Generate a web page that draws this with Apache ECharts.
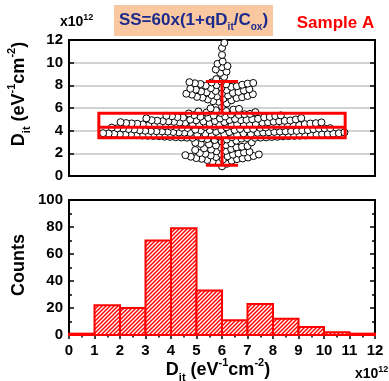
<!DOCTYPE html>
<html>
<head>
<meta charset="utf-8">
<script src="https://cdn.jsdelivr.net/npm/echarts@6/dist/echarts.min.js"></script>
<style>
  html, body { margin: 0; padding: 0; background: #fff; }
  #main { width: 389px; height: 381px; }
</style>
</head>
<body>
<div id="main"></div>
<script>
// Interface trap density values (units of 1e12 eV^-1 cm^-2), one per device
const ditLow = [
  0.85,
  1.08, 1.21, 1.27, 1.35, 1.41, 1.46, 1.49, 1.52, 1.55, 1.58, 1.63, 1.67, 1.7, 1.74, 1.76,
  1.81, 1.84, 1.88, 1.9, 1.93, 1.96, 1.98,
  2.02, 2.07, 2.13, 2.18, 2.22, 2.29, 2.33, 2.38, 2.44, 2.49, 2.53, 2.58, 2.64, 2.69,
  2.73, 2.79, 2.84, 2.88, 2.93, 2.97
];
const ditCore = [
  3.04, 3.11, 3.17, 3.22, 3.26, 3.3, 3.33, 3.35,
  3.36, 3.37, 3.38, 3.4, 3.41, 3.42, 3.43, 3.45, 3.46, 3.47,
  3.48, 3.5, 3.51, 3.52, 3.53, 3.55, 3.56, 3.57, 3.58, 3.6,
  3.61, 3.62, 3.63, 3.65, 3.66, 3.67, 3.68, 3.7, 3.71, 3.72,
  3.73, 3.75, 3.76, 3.77, 3.78, 3.8, 3.81, 3.82, 3.83, 3.85,
  3.86, 3.87, 3.88, 3.9, 3.91, 3.92, 3.93, 3.95, 3.96, 3.97,
  3.98, 3.99, 3.39, 3.44, 3.54, 3.64, 3.69, 3.74, 3.84, 3.89,
  3.94, 3.59,
  4.01, 4.02, 4.03, 4.05, 4.06, 4.08, 4.09, 4.1, 4.12, 4.13,
  4.15, 4.16, 4.18, 4.19, 4.21, 4.22, 4.24, 4.25, 4.27, 4.28,
  4.3, 4.31, 4.33, 4.34, 4.36, 4.37, 4.39, 4.4, 4.42, 4.43,
  4.45, 4.46, 4.48, 4.49, 4.51, 4.52, 4.54, 4.55, 4.57, 4.58,
  4.6, 4.61, 4.63, 4.64, 4.66, 4.67, 4.69, 4.7, 4.72, 4.73,
  4.75, 4.76, 4.78, 4.79, 4.81, 4.82, 4.84, 4.85, 4.87, 4.88,
  4.9, 4.91, 4.93, 4.94, 4.96, 4.97, 4.99, 4.04, 4.14, 4.26,
  4.35, 4.47, 4.56, 4.65, 4.74, 4.83, 4.92, 4.2, 4.5,
  5.01, 5.03, 5.05, 5.07, 5.09, 5.11, 5.13, 5.15, 5.17, 5.19,
  5.21, 5.23, 5.25, 5.27, 5.29, 5.31, 5.33, 5.35, 5.37, 5.39,
  5.42, 5.45, 5.48, 5.52, 5.56, 5.6, 5.64, 5.69, 5.74, 5.8,
  5.86, 5.92, 5.97
];
const ditHigh = [
  6.15, 6.4, 6.55, 6.6, 6.68, 6.75, 6.82, 6.88, 6.92, 6.95, 6.98,
  7.02, 7.06, 7.1, 7.14, 7.18, 7.22, 7.26, 7.3, 7.34, 7.38, 7.42, 7.46,
  7.5, 7.54, 7.58, 7.62, 7.66, 7.7, 7.75, 7.8, 7.86, 7.92, 7.97,
  8.02, 8.05, 8.09, 8.12, 8.15, 8.18, 8.21, 8.25, 8.28, 8.33, 8.55, 8.75,
  9.1, 9.2, 9.4, 9.6, 9.7, 9.9,
  10.1, 10.68,
  11.3, 11.75
];

// Box summary: [lower whisker, lower edge, centre line, upper edge, upper whisker]
const boxStats = [0.94, 3.37, 4.31, 5.54, 8.33];

// Histogram of the same population
const binEdges = [0, 1, 2, 3, 4, 5, 6, 7, 8, 9, 10, 11, 12];
const binCounts = [1, 22, 20, 70, 79, 33, 11, 23, 12, 6, 2, 1];

// Tick labels
const ditTicks = [0, 2, 4, 6, 8, 10, 12];
const countTicks = [0, 20, 40, 60, 80, 100];
const histTicks = [0, 1, 2, 3, 4, 5, 6, 7, 8, 9, 10, 11, 12];

const FONT = '"Liberation Sans", Arial, sans-serif';
const RED = '#ff0000';

// Diagonal hatch used to fill the histogram bars
const tile = document.createElement('canvas');
tile.width = 4; tile.height = 4;
(function () {
  const c = tile.getContext('2d');
  c.fillStyle = '#ffffff';
  c.fillRect(0, 0, 4, 4);
  c.strokeStyle = '#ff0000';
  c.lineWidth = 1.5;
  c.beginPath();
  c.moveTo(0, 4); c.lineTo(4, 0);
  c.moveTo(-1, 1); c.lineTo(1, -1);
  c.moveTo(3, 5); c.lineTo(5, 3);
  c.stroke();
})();
const hatch = { image: tile, repeat: 'repeat' };

const labelStyle = { color: '#000', fontFamily: FONT, fontWeight: 'bold', fontSize: 15 };
const blackLine = { show: true, onZero: false, lineStyle: { color: '#000', width: 2 } };

function frameAxis(extra) {
  return Object.assign({
    type: 'value', axisLine: blackLine, axisTick: { show: false },
    axisLabel: { show: false }, splitLine: { show: false }
  }, extra);
}

const chart = echarts.init(document.getElementById('main'), null, { renderer: 'canvas' });

const option = {
  animation: false,
  backgroundColor: '#fff',
  grid: [
    { left: 69, top: 40, width: 306, height: 136 },
    { left: 69, top: 200, width: 306, height: 135 }
  ],
  xAxis: [
    frameAxis({ gridIndex: 0, position: 'bottom', min: -1, max: 1 }),
    frameAxis({ gridIndex: 0, position: 'top', min: -1, max: 1 }),
    {
      type: 'value', gridIndex: 1, position: 'bottom', min: 0, max: 12, interval: 1,
      axisLine: blackLine,
      axisTick: { show: true, inside: false, length: 4, lineStyle: { color: '#000', width: 1.5 } },
      minorTick: { show: true, splitNumber: 2, length: 2.5, lineStyle: { color: '#000', width: 1.5 } },
      axisLabel: Object.assign({ margin: 8, formatter: v => histTicks.includes(v) ? String(v) : '' }, labelStyle),
      splitLine: { show: false }
    },
    frameAxis({ gridIndex: 1, position: 'top', min: 0, max: 12 })
  ],
  yAxis: [
    {
      type: 'value', gridIndex: 0, position: 'left', min: 0, max: 12, interval: 2,
      axisLine: blackLine,
      axisTick: { show: true, inside: true, length: 5, lineStyle: { color: '#000', width: 1.5 } },
      axisLabel: Object.assign({ margin: 6, formatter: v => ditTicks.includes(v) ? String(v) : '' }, labelStyle),
      splitLine: { show: true, lineStyle: { color: '#c4c4c4', width: 1.5 } }
    },
    {
      type: 'value', gridIndex: 0, position: 'right', min: 0, max: 12, interval: 2,
      axisLine: blackLine,
      axisTick: { show: true, inside: true, length: 5, lineStyle: { color: '#000', width: 1.5 } },
      axisLabel: { show: false }, splitLine: { show: false }
    },
    {
      type: 'value', gridIndex: 1, position: 'left', min: 0, max: 100, interval: 20,
      axisLine: blackLine,
      axisTick: { show: true, inside: true, length: 5, lineStyle: { color: '#000', width: 1.5 } },
      minorTick: { show: true, splitNumber: 2, length: 3, lineStyle: { color: '#000', width: 1.5 } },
      axisLabel: Object.assign({ margin: 6, formatter: v => countTicks.includes(v) ? String(v) : '' }, labelStyle),
      splitLine: { show: false }
    },
    {
      type: 'value', gridIndex: 1, position: 'right', min: 0, max: 100, interval: 20,
      axisLine: blackLine,
      axisTick: { show: true, inside: true, length: 5, lineStyle: { color: '#000', width: 1.5 } },
      minorTick: { show: true, splitNumber: 2, length: 3, lineStyle: { color: '#000', width: 1.5 } },
      axisLabel: { show: false }, splitLine: { show: false }
    }
  ],
  series: [
    {
      id: 'swarm', type: 'scatter', xAxisIndex: 0, yAxisIndex: 0,
      symbol: 'circle', symbolSize: 7, z: 3,
      itemStyle: { color: '#fff', borderColor: '#000', borderWidth: 1, opacity: 1 },
      data: []
    },
    {
      type: 'custom', xAxisIndex: 0, yAxisIndex: 0, z: 5,
      data: [boxStats],
      renderItem(params, api) {
        const [lo, q1, mid, q3, hi] = [0, 1, 2, 3, 4].map(i => api.value(i));
        const half = 0.805, cap = 0.105;
        const tl = api.coord([-half, q3]);
        const br = api.coord([half, q1]);
        const m0 = api.coord([-half, mid]);
        const m1 = api.coord([half, mid]);
        const wTop = api.coord([0, hi]);
        const wBot = api.coord([0, lo]);
        const boxTop = api.coord([0, q3]);
        const boxBot = api.coord([0, q1]);
        const capL = api.coord([-cap, hi])[0];
        const capR = api.coord([cap, hi])[0];
        const stroke = { stroke: RED, lineWidth: 3, fill: null };
        return {
          type: 'group',
          children: [
            { type: 'rect', shape: { x: tl[0], y: tl[1], width: br[0] - tl[0], height: br[1] - tl[1] }, style: stroke },
            { type: 'line', shape: { x1: m0[0], y1: m0[1], x2: m1[0], y2: m1[1] }, style: stroke },
            { type: 'line', shape: { x1: wTop[0], y1: wTop[1], x2: boxTop[0], y2: boxTop[1] }, style: stroke },
            { type: 'line', shape: { x1: wBot[0], y1: wBot[1], x2: boxBot[0], y2: boxBot[1] }, style: stroke },
            { type: 'line', shape: { x1: capL, y1: wTop[1], x2: capR, y2: wTop[1] }, style: stroke },
            { type: 'line', shape: { x1: capL, y1: wBot[1], x2: capR, y2: wBot[1] }, style: stroke }
          ]
        };
      }
    },
    {
      type: 'custom', xAxisIndex: 2, yAxisIndex: 2, z: 3,
      data: binCounts.map((c, i) => [binEdges[i], binEdges[i + 1], c]),
      renderItem(params, api) {
        const p0 = api.coord([api.value(0), api.value(2)]);
        const p1 = api.coord([api.value(1), 0]);
        return {
          type: 'rect',
          shape: { x: p0[0], y: p0[1], width: p1[0] - p0[0], height: p1[1] - p0[1] },
          style: { fill: hatch, stroke: RED, lineWidth: 2 }
        };
      }
    }
  ],
  graphic: [
    { type: 'rect', shape: { x: 114, y: 5, width: 159, height: 31 }, style: { fill: '#f9c8a0' }, z: 1 },
    {
      type: 'text', x: 193.5, y: 20.5, z: 2,
      style: {
        text: '{m|SS=60x(1+qD}{s|it}{m|/C}{s|ox}{m|)}',
        align: 'center', verticalAlign: 'middle',
        rich: {
          m: { fontFamily: FONT, fontWeight: 'bold', fontSize: 17, fill: '#1c2a8c', lineHeight: 24 },
          s: { fontFamily: FONT, fontWeight: 'bold', fontSize: 10, fill: '#1c2a8c', verticalAlign: 'bottom', lineHeight: 10 }
        }
      }
    },
    {
      type: 'text', x: 335.5, y: 23,
      style: { text: 'Sample A', align: 'center', verticalAlign: 'middle', fill: RED,
        font: 'bold 17px ' + FONT }
    },
    {
      type: 'text', x: 60, y: 22,
      style: {
        text: '{m|x10}{p|12}', align: 'left', verticalAlign: 'middle',
        rich: {
          m: { fontFamily: FONT, fontWeight: 'bold', fontSize: 14, fill: '#000', lineHeight: 18 },
          p: { fontFamily: FONT, fontWeight: 'bold', fontSize: 9, fill: '#000', verticalAlign: 'top', lineHeight: 9 }
        }
      }
    },
    {
      type: 'text', x: 355, y: 374,
      style: {
        text: '{m|x10}{p|12}', align: 'left', verticalAlign: 'middle',
        rich: {
          m: { fontFamily: FONT, fontWeight: 'bold', fontSize: 14, fill: '#000', lineHeight: 18 },
          p: { fontFamily: FONT, fontWeight: 'bold', fontSize: 9, fill: '#000', verticalAlign: 'top', lineHeight: 9 }
        }
      }
    },
    {
      type: 'text', x: 19, y: 94, rotation: Math.PI / 2,
      style: {
        text: '{m|D}{s|it}{m| (eV}{p|-1}{m|cm}{p|-2}{m|)}', align: 'center', verticalAlign: 'middle',
        rich: {
          m: { fontFamily: FONT, fontWeight: 'bold', fontSize: 18, fill: '#000', lineHeight: 26 },
          s: { fontFamily: FONT, fontWeight: 'bold', fontSize: 11, fill: '#000', verticalAlign: 'bottom', lineHeight: 11 },
          p: { fontFamily: FONT, fontWeight: 'bold', fontSize: 11, fill: '#000', verticalAlign: 'top', lineHeight: 11 }
        }
      }
    },
    {
      type: 'text', x: 19, y: 265, rotation: Math.PI / 2,
      style: { text: 'Counts', align: 'center', verticalAlign: 'middle', fill: '#000',
        font: 'bold 18px ' + FONT }
    },
    {
      type: 'text', x: 218, y: 370,
      style: {
        text: '{m|D}{s|it}{m| (eV}{p|-1}{m|cm}{p|-2}{m|)}', align: 'center', verticalAlign: 'middle',
        rich: {
          m: { fontFamily: FONT, fontWeight: 'bold', fontSize: 18, fill: '#000', lineHeight: 26 },
          s: { fontFamily: FONT, fontWeight: 'bold', fontSize: 11, fill: '#000', verticalAlign: 'bottom', lineHeight: 11 },
          p: { fontFamily: FONT, fontWeight: 'bold', fontSize: 11, fill: '#000', verticalAlign: 'top', lineHeight: 11 }
        }
      }
    }
  ]
};

chart.setOption(option);

// Beeswarm layout: each point slides sideways from the centre line until it
// no longer overlaps any point already placed (distances in screen pixels).
function swarm(values, minDist) {
  const sorted = values.slice().sort((a, b) => a - b);
  const placed = [];
  const cx = chart.convertToPixel({ gridIndex: 0 }, [0, 0])[0];
  return sorted.map(v => {
    const py = chart.convertToPixel({ gridIndex: 0 }, [0, v])[1];
    const near = placed.filter(p => Math.abs(p.y - py) < minDist);
    const cands = [0];
    near.forEach(p => {
      const h = Math.sqrt(minDist * minDist - (p.y - py) * (p.y - py));
      cands.push(p.x + h, p.x - h);
    });
    cands.sort((a, b) => Math.abs(a) - Math.abs(b));
    const dx = cands.find(c => near.every(p => (p.x - c) ** 2 + (p.y - py) ** 2 >= minDist * minDist - 0.01));
    placed.push({ x: dx, y: py });
    const xv = chart.convertFromPixel({ gridIndex: 0 }, [cx + dx, py])[0];
    return [xv, v];
  });
}

chart.setOption({
  series: [{ id: 'swarm', data: swarm(ditLow.concat(ditCore, ditHigh), 5.6) }]
});
</script>
</body>
</html>
